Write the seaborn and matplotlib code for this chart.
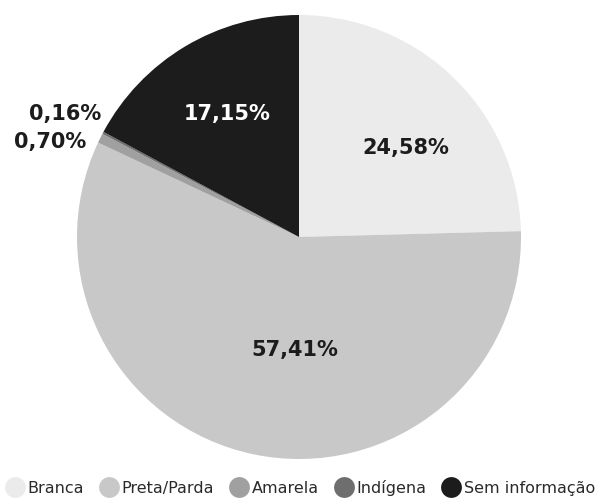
import matplotlib
matplotlib.use("Agg")
import matplotlib.pyplot as plt
from matplotlib.lines import Line2D
import seaborn as sns
import numpy as np

categories = ["Branca", "Preta/Parda", "Amarela", "Indígena", "Sem informação"]
values = [24.58, 57.41, 0.70, 0.16, 17.15]
labels = ["24,58%", "57,41%", "0,70%", "0,16%", "17,15%"]
colors = ["#ebebeb", "#c8c8c8", "#a0a0a0", "#6e6e6e", "#1c1c1c"]

sns.set_theme(style="white")
plt.rcParams['font.family'] = ['DejaVu Sans']

fig = plt.figure(figsize=(6, 5.03), dpi=100)
ax = fig.add_axes([77/600, (503-459)/503, 444/600, 444/503])
wedges, _ = ax.pie(values, colors=colors, startangle=90, counterclock=False,
                   radius=1, wedgeprops=dict(linewidth=0))
ax.set_xlim(-1, 1)
ax.set_ylim(-1, 1)
ax.axis("off")

# label placement (style): (x, y, ha, color)
place = [
    (0.48, 0.40, "center", "#1c1c1c"),
    (-0.02, -0.51, "center", "#1c1c1c"),
    (-0.96, 0.43, "right", "#1c1c1c"),
    (-0.89, 0.555, "right", "#1c1c1c"),
    (-0.325, 0.555, "center", "white"),
]
for lab, (x, y, ha, c) in zip(labels, place):
    ax.text(x, y, lab, ha=ha, va="center", fontsize=15, fontweight="bold", color=c)

handles = [Line2D([0], [0], marker="o", linestyle="", markersize=15,
                  markerfacecolor=c, markeredgewidth=0) for c in colors]
fig.legend(handles, categories, loc="center", bbox_to_anchor=(0.5, 0.030), ncol=5,
           frameon=False, fontsize=11.5, handletextpad=0.15, columnspacing=0.9,
           handlelength=1.3, labelcolor="#2a2a2a", borderaxespad=0)

fig.savefig("out.png", dpi=100)
